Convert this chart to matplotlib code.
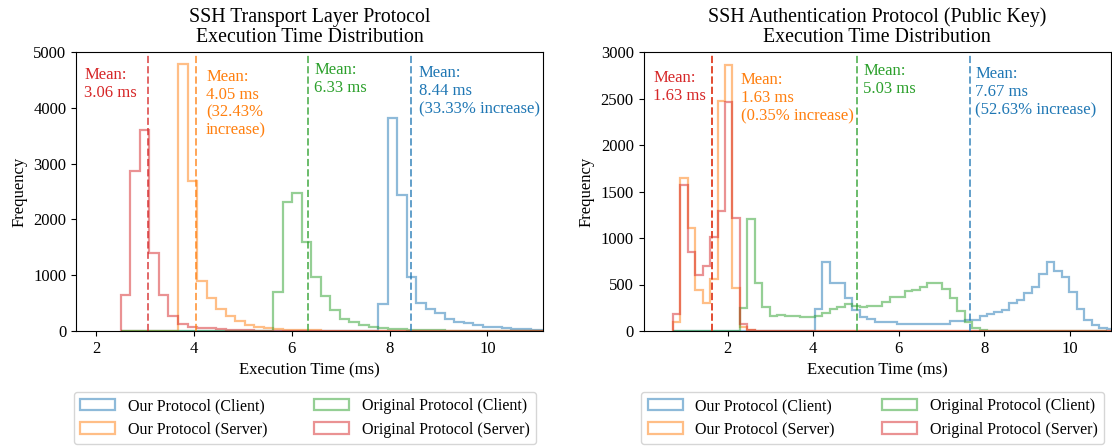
import numpy as np
import matplotlib
matplotlib.use("Agg")
import matplotlib.pyplot as plt
from matplotlib.patches import Patch

plt.rcParams['font.family'] = ['Liberation Serif', 'DejaVu Serif']

# series order: our client, our server, original client, original server
labels = ['Our Protocol (Client)', 'Our Protocol (Server)',
          'Original Protocol (Client)', 'Original Protocol (Server)']
colors = ['#1f77b4', '#ff7f0e', '#2ca02c', '#d62728']

# ---- Transport layer (left) ----
tl_bin_start = 2.509
tl_bin_width = 0.1947
tl_our_client = [0]*27 + [484, 3820, 2430, 965, 505, 388, 317, 209, 161, 137, 101,
                          78, 66, 54, 42, 30, 24, 18, 15, 12]
tl_our_server = [0]*6 + [4780, 2680, 890, 590, 400, 270, 175, 115, 75, 50, 35, 25, 18,
                         12, 9, 7, 5, 4, 3, 2, 2, 1, 1, 1, 1, 1, 0, 0, 0, 0, 0, 0,
                         0, 0, 0, 0, 0, 0, 0, 0, 0]
tl_orig_client = [0]*16 + [690, 2320, 2470, 1600, 960, 627, 380, 210, 155, 107, 66,
                           45, 35, 28, 22, 17, 13, 10, 8, 6, 5, 4, 3, 2, 2, 1, 1, 1,
                           1, 1, 1]
tl_orig_server = [650, 2870, 3600, 1400, 650, 265, 120, 80, 60, 45, 35, 25, 18, 12,
                  8, 6, 5, 4, 3, 2, 2, 1, 1, 1, 1, 0, 0, 0, 0, 0, 0, 0, 0, 0, 0, 0,
                  0, 0, 0, 0, 0, 0, 0, 0, 0, 0, 0]
tl_means = [8.44, 4.05, 6.33, 3.06]
tl_notes = ['Mean:\n8.44 ms\n(33.33% increase)', 'Mean:\n4.05 ms\n(32.43%\nincrease)',
            'Mean:\n6.33 ms', 'Mean:\n3.06 ms']

# ---- Authentication (right) ----
au_bin_start = 0.711
au_bin_width = 0.175
au_our_client = [0]*19 + [233, 738, 512, 520, 351, 226, 154, 129, 100, 100, 93, 75,
                          72, 72, 75, 79, 79, 79, 111, 111, 118, 118, 161, 183, 208,
                          226, 297, 333, 405, 477, 609, 742, 649, 584, 416, 237, 118,
                          65, 29, 18, 10]
au_our_server = [100, 1642, 1104, 441, 305, 556, 2473, 2860, 462, 40, 8, 3, 1] + [0]*47
au_orig_client = [0]*9 + [244, 1200, 515, 258, 160, 172, 161, 161, 154, 147, 161, 197,
                          237, 254, 287, 272, 262, 269, 269, 315, 362, 362, 432, 441,
                          472, 512, 512, 450, 355, 215, 100, 32, 11, 4, 2, 1, 0, 0, 0,
                          0, 0, 0, 0, 0, 0, 0, 0, 0, 0]
au_orig_server = [180, 1570, 853, 602, 699, 1014, 1290, 2459, 1220, 80, 15, 5, 3,
                  1] + [0]*46
au_means = [7.67, 1.63, 5.03, 1.63]
au_notes = ['Mean:\n7.67 ms\n(52.63% increase)', 'Mean:\n1.63 ms\n(0.35% increase)',
            'Mean:\n5.03 ms', 'Mean:\n1.63 ms']

fig, (ax1, ax2) = plt.subplots(1, 2, figsize=(11.12, 4.48), dpi=100)
fig.subplots_adjust(left=76/1112, right=1111/1112, bottom=1-331/448, top=1-52/448,
                    wspace=0.214)


def draw(ax, start, width, series, means, notes, dx, ys, aligns, title, ymax, yticks, xlim):
    for counts, c in zip(series, colors):
        counts = np.array(counts, dtype=float)
        edges = start + width*np.arange(len(counts)+1)
        ax.stairs(counts, edges, color=c, alpha=0.5, lw=1.6)
    for m, c, note, d, y, ha in zip(means, colors, notes, dx, ys, aligns):
        ax.axvline(m, color=c, ls='--', lw=1.4, alpha=0.7)
        ax.text(m + d, y, note, color=c, fontsize=12, ha=ha, va='top', multialignment='left',
                transform=ax.get_xaxis_transform(), linespacing=1.17)
    ax.set_title(title, fontsize=14.3, linespacing=1.12, pad=7)
    ax.set_xlabel('Execution Time (ms)', fontsize=12)
    ax.set_ylabel('Frequency', fontsize=12)
    ax.set_xlim(*xlim)
    ax.set_ylim(0, ymax)
    ax.set_yticks(yticks)
    ax.set_xticks([2, 4, 6, 8, 10])
    ax.tick_params(labelsize=12)
    handles = [Patch(facecolor='none', edgecolor=c, alpha=0.5, lw=1.6) for c in colors]
    ax.legend(handles, labels, loc='upper left', bbox_to_anchor=(-0.005, -0.219, 0.99, 0),
              mode='expand', borderaxespad=0, ncol=2, fontsize=11.5, handlelength=2.2,
              labelspacing=0.45)


draw(ax1, tl_bin_start, tl_bin_width,
     [tl_our_client, tl_our_server, tl_orig_client, tl_orig_server],
     tl_means, tl_notes, [0.16, 0.2, 0.13, -0.22], [0.953, 0.94, 0.964, 0.946],
     ['left', 'left', 'left', 'right'],
     'SSH Transport Layer Protocol\nExecution Time Distribution',
     5000, range(0, 5001, 1000), (1.593, 11.146))

draw(ax2, au_bin_start, au_bin_width,
     [au_our_client, au_our_server, au_orig_client, au_orig_server],
     au_means, au_notes, [0.12, 0.67, 0.14, -0.14], [0.949, 0.928, 0.961, 0.935],
     ['left', 'left', 'left', 'right'],
     'SSH Authentication Protocol (Public Key)\nExecution Time Distribution',
     3000, range(0, 3001, 500), (0.031, 10.96))

fig.savefig('out.png', dpi=100)
